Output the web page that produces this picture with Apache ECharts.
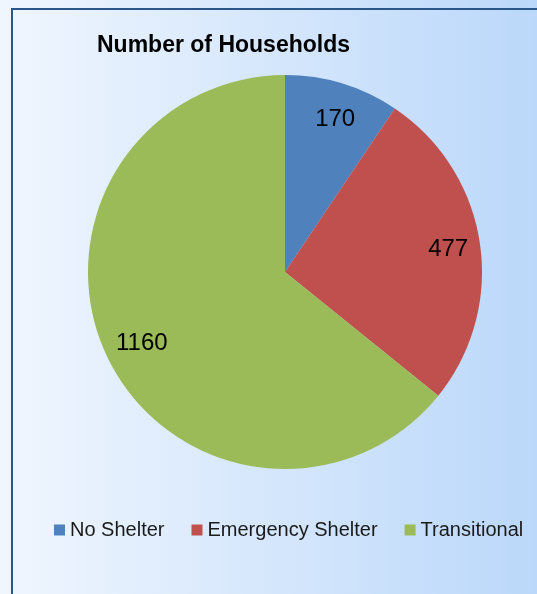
<!DOCTYPE html>
<html>
<head>
<meta charset="utf-8">
<script src="https://cdn.jsdelivr.net/npm/echarts@6/dist/echarts.min.js"></script>
<style>
  html, body { margin: 0; padding: 0; }
  #chart { width: 537px; height: 594px; }
</style>
</head>
<body>
<div id="chart"></div>
<script>
// data
const categories = ['No Shelter', 'Emergency Shelter', 'Transitional']
const households = [170, 477, 1160]
const colors = ['#4F81BD', '#C0504D', '#9BBB59']

const pieData = categories.map((name, i) => {
  return { name: name, value: households[i], itemStyle: { color: colors[i] } }
})

const chart = echarts.init(document.getElementById('chart'))
const font = '"Liberation Sans", Arial, sans-serif'

const option = {
  // background gradient, left to right
  backgroundColor: new echarts.graphic.LinearGradient(0, 0, 1, 0, [
    { offset: 0, color: '#F0F6FE' },
    { offset: 1, color: '#BBD8FA' }
  ]),
  animation: false,
  title: {
    text: 'Number of Households',
    left: 92,
    top: 29,
    textStyle: { fontFamily: font, fontSize: 23, fontWeight: 'bold', color: '#000' }
  },
  legend: {
    data: categories,
    left: 54,
    top: 520,
    padding: 0,
    itemWidth: 11,
    itemHeight: 11,
    itemGap: 27,
    icon: 'rect',
    textStyle: { fontFamily: font, fontSize: 20, color: '#1a1a1a' }
  },
  // chart frame
  graphic: [{
    type: 'rect',
    silent: true,
    shape: { x: 12, y: 9, width: 600, height: 700 },
    style: { fill: 'none', stroke: '#2B5788', lineWidth: 2 }
  }],
  series: [
    {
      type: 'pie',
      center: [285, 272],
      radius: [0, 197],
      startAngle: 90,
      clockwise: true,
      label: { show: false },
      labelLine: { show: false },
      emphasis: { disabled: true },
      data: pieData
    },
    // transparent copy used only to place the value labels near the rim
    {
      type: 'pie',
      silent: true,
      center: [288, 274],
      radius: [0, 318],
      startAngle: 90,
      clockwise: true,
      itemStyle: { color: 'transparent' },
      label: {
        show: true,
        position: 'inside',
        formatter: '{c}',
        fontFamily: font,
        fontSize: 24,
        color: '#000'
      },
      labelLine: { show: false },
      emphasis: { disabled: true },
      data: categories.map((name, i) => ({ name: name, value: households[i] }))
    }
  ]
}
chart.setOption(option)
</script>
</body>
</html>
